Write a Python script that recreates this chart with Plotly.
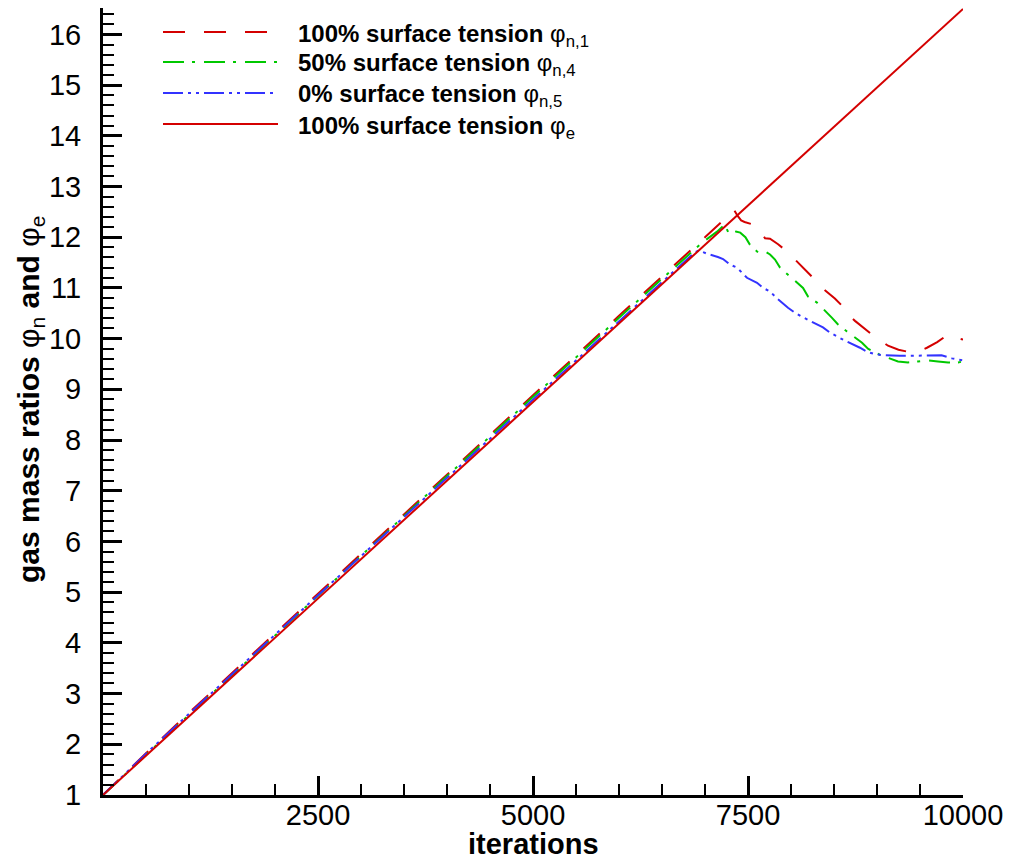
import plotly.graph_objects as go

# ---------------- data ----------------
iter_e = [0, 10000]
phi_e = [1.0, 16.5]

iter_n1 = [0, 500, 1000, 1500, 2000, 2500, 3000, 3500, 4000, 4500, 5000, 5500, 6000,
           6500, 6965, 7116, 7300, 7340, 7380, 7420, 7460, 7540, 7616, 7660, 7698, 7756,
           7850, 7953, 8012, 8081, 8170, 8256, 8314, 8419, 8510, 8605, 8663, 8744, 8840,
           8942, 9128, 9250, 9360, 9500, 9581, 9700, 9791, 9849, 9907, 10000]
phi_n1 = [1.0, 1.825, 2.62, 3.405, 4.19, 4.975, 5.75, 6.535, 7.32, 8.105, 8.89, 9.665, 10.45,
          11.225, 11.95, 12.19, 12.46, 12.53, 12.42, 12.33, 12.30, 12.26, 12.19, 12.08, 11.98, 11.97,
          11.86, 11.72, 11.62, 11.50, 11.36, 11.20, 11.07, 10.93, 10.79, 10.63, 10.47, 10.35, 10.21,
          10.08, 9.86, 9.78, 9.74, 9.76, 9.82, 9.93, 10.04, 10.08, 10.02, 9.98]

iter_n4 = [0, 500, 1000, 1500, 2000, 2500, 3000, 3500, 4000, 4500, 5000, 5500, 6000, 6500,
           6965, 7140, 7230, 7280, 7360, 7410, 7470, 7523, 7616, 7698, 7756, 7814, 7872, 7965,
           8140, 8198, 8302, 8477, 8547, 8651, 8826, 8895, 9035, 9244, 9360, 9477, 9593, 9709,
           9826, 9942, 10000]
phi_n4 = [1.0, 1.795, 2.58, 3.36, 4.14, 4.925, 5.71, 6.5, 7.29, 8.075, 8.86, 9.635, 10.41, 11.18,
          11.89, 12.11, 12.25, 12.06, 12.11, 12.09, 12.0, 11.85, 11.70, 11.72, 11.66, 11.56, 11.40, 11.26,
          11.0, 10.83, 10.71, 10.41, 10.28, 10.14, 9.92, 9.80, 9.68, 9.55, 9.53, 9.55, 9.57, 9.55,
          9.53, 9.53, 9.55]

iter_n5 = [0, 500, 1000, 1500, 2000, 2500, 3000, 3500, 4000, 4500, 5000, 5500, 6000, 6500,
           6880, 6930, 7030, 7150, 7210, 7291, 7372, 7430, 7488, 7605, 7674, 7756, 7814, 7965,
           8047, 8128, 8198, 8372, 8453, 8535, 8605, 8802, 8884, 8965, 9035, 9267, 9360, 9456,
           9535, 9750, 9814, 9872, 10000]
phi_n5 = [1.0, 1.815, 2.6, 3.385, 4.16, 4.94, 5.71, 6.48, 7.25, 8.025, 8.8, 9.57, 10.34, 11.11,
          11.70, 11.74, 11.67, 11.61, 11.57, 11.46, 11.40, 11.30, 11.20, 11.10, 11.0, 10.93, 10.83, 10.61,
          10.51, 10.43, 10.37, 10.22, 10.12, 10.04, 9.98, 9.82, 9.74, 9.70, 9.68, 9.66, 9.66, 9.66,
          9.66, 9.67, 9.64, 9.61, 9.57]

x_tickvals = [2500, 5000, 7500, 10000]
y_tickvals = list(range(1, 17))

legend_labels = [
    "<b>100% surface tension</b> φ<sub>n,1</sub>",
    "<b>50% surface tension</b> φ<sub>n,4</sub>",
    "<b>0% surface tension</b> φ<sub>n,5</sub>",
    "<b>100% surface tension</b> φ<sub>e</sub>",
]

# ---------------- styles ----------------
RED = "#d40000"
GREEN = "#00c800"
BLUE = "#3333ff"
FONT = "Liberation Sans, Arial, sans-serif"

styles = [
    dict(color=RED, width=2, dash="22px,19px"),
    dict(color=GREEN, width=2, dash="21px,8px,3px,9px"),
    dict(color=BLUE, width=2, dash="20px,5px,3px,5px,3px,5px"),
    dict(color=RED, width=2, dash="solid"),
]

series = [(iter_n1, phi_n1), (iter_n4, phi_n4), (iter_n5, phi_n5), (iter_e, phi_e)]

fig = go.Figure()
for (xs, ys), st, lab in zip(series, styles, legend_labels):
    fig.add_trace(go.Scatter(x=xs, y=ys, mode="lines", line=st, name=lab, showlegend=False))

# page offset (default body margin of the html page)
OFF = 8
L, R, T, B = 95, 48, 0, 70
W, H = 1003, 857
pw, ph = W - L - R, H - T - B


def px2paper_x(px):
    return (px - OFF - L) / pw


def px2paper_y(py):
    return (H - B - (py - OFF)) / ph


# manual legend (long line samples like the original)
row_y = [32, 62, 93, 124]
for st, lab, ry in zip(styles, legend_labels, row_y):
    fig.add_shape(type="line", xref="paper", yref="paper",
                  x0=px2paper_x(163), x1=px2paper_x(278),
                  y0=px2paper_y(ry), y1=px2paper_y(ry),
                  line=dict(color=st["color"], width=2, dash=st["dash"]))
    fig.add_annotation(xref="paper", yref="paper", x=px2paper_x(296), y=px2paper_y(ry + 3),
                       xanchor="left", yanchor="middle", text=lab, showarrow=False,
                       font=dict(family=FONT, size=24, color="black"))

# axis titles
fig.add_annotation(xref="paper", yref="paper", x=0.5, y=px2paper_y(844),
                   xanchor="center", yanchor="middle", text="<b>iterations</b>", showarrow=False,
                   font=dict(family=FONT, size=29, color="black"))
fig.add_annotation(xref="paper", yref="paper", x=px2paper_x(30), y=px2paper_y(400),
                   xanchor="center", yanchor="middle", textangle=-90,
                   text="<b>gas mass ratios </b>φ<sub>n</sub><b> and </b>φ<sub>e</sub>",
                   showarrow=False, font=dict(family=FONT, size=30, color="black"))

fig.update_layout(
    width=W, height=H,
    margin=dict(l=L, r=R, t=T, b=B, pad=0),
    paper_bgcolor="white", plot_bgcolor="white",
    font=dict(family=FONT, color="black"),
    showlegend=False,
)
fig.update_xaxes(
    range=[0, 10000], showgrid=False, zeroline=False,
    showline=True, linecolor="black", linewidth=3,
    tickmode="array", tickvals=x_tickvals, ticktext=[str(v) for v in x_tickvals],
    ticks="inside", ticklen=19, tickwidth=3, tickcolor="black",
    tickfont=dict(family=FONT, size=29, color="black"),
    ticklabelstandoff=-8,
    minor=dict(tick0=0, dtick=500, ticks="inside", ticklen=11, tickwidth=1.5, tickcolor="black"),
)
fig.update_yaxes(
    range=[1, 16.52], showgrid=False, zeroline=False,
    showline=True, linecolor="black", linewidth=3,
    tickmode="array", tickvals=y_tickvals, ticktext=[str(v) for v in y_tickvals],
    ticks="inside", ticklen=19, tickwidth=3, tickcolor="black",
    tickfont=dict(family=FONT, size=29, color="black"),
    ticklabelstandoff=13,
    minor=dict(tick0=1, dtick=0.2, ticks="inside", ticklen=11, tickwidth=1.5, tickcolor="black"),
)

fig.write_html("out.html")
